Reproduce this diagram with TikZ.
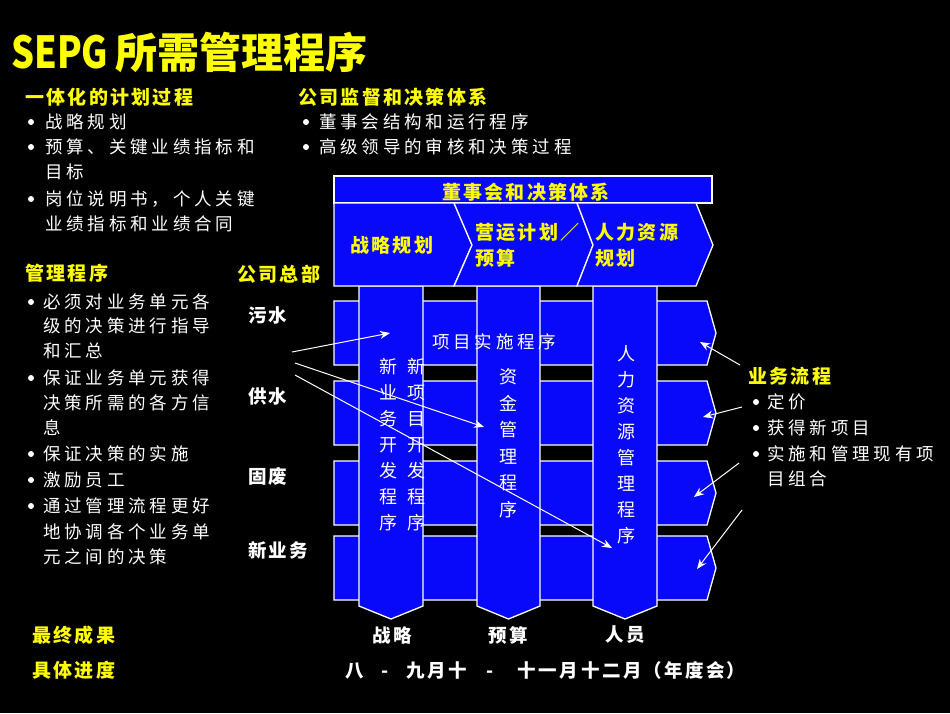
\documentclass[tikz,border=0pt]{standalone}
\usepackage{fontspec}
\usetikzlibrary{arrows.meta}
\newfontfamily\cjkW{Noto Sans CJK SC}[LetterSpace=22]
\newfontfamily\cjkV{Noto Sans CJK SC}
\newfontfamily\cjkB{Noto Sans CJK SC}[LetterSpace=12]
\definecolor{bgblue}{RGB}{8,8,250}
\definecolor{ylw}{RGB}{255,255,0}
\tikzset{
  shapebox/.style={fill=bgblue, draw=white, line width=1.3pt, line join=miter},
  yhead/.style={text=ylw, font=\cjkB\bfseries\fontsize{19}{22}\selectfont, inner sep=0pt},
  wlabel/.style={text=white, font=\cjkB\bfseries\fontsize{18.5}{22}\selectfont, inner sep=0pt},
  wtxt/.style={text=white, font=\cjkW\fontsize{17.5}{22}\selectfont, inner sep=0pt, anchor=west},
  vtxt/.style={text=white, font=\cjkV\fontsize{18}{26}\selectfont, inner sep=0pt, align=center},
  bul/.style={fill=white},
  arr/.style={draw=white, line width=1pt, -{Stealth[length=10pt,width=8pt]}}
}
\begin{document}
\begin{tikzpicture}[x=1pt,y=-1pt]
\fill[black] (0,0) rectangle (950,713);
\useasboundingbox (0,0) rectangle (950,713);

% title
\node[text=ylw, font=\cjkV\bfseries\fontsize{42}{46}\selectfont, anchor=west, inner sep=0pt] (title) at (11,52) {\scalebox{0.86}[1.05]{SEPG}\hspace{7pt}所需管理程序};

% left top block
\node[yhead, anchor=west] (h1) at (25,97) {一体化的计划过程};
\fill[bul] (31,122) circle (3);
\node[wtxt] (a1) at (45,122) {战略规划};
\fill[bul] (31,147) circle (3);
\node[wtxt] (a2) at (45,147) {预算、关键业绩指标和};
\node[wtxt] (a3) at (45,172) {目标};
\fill[bul] (31,199) circle (3);
\node[wtxt] (a4) at (45,199) {岗位说明书，个人关键};
\node[wtxt] (a5) at (45,224) {业绩指标和业绩合同};

% right top block
\node[yhead, anchor=west] (h2) at (298,97) {公司监督和决策体系};
\fill[bul] (306,122) circle (3);
\node[wtxt] (b1) at (319,122) {董事会结构和运行程序};
\fill[bul] (306,147) circle (3);
\node[wtxt] (b2) at (319,147) {高级领导的审核和决策过程};

% management block
\node[yhead, anchor=west] (h3) at (25,273) {管理程序};
\fill[bul] (31,302) circle (3);
\node[wtxt] (c1) at (43,302) {必须对业务单元各};
\node[wtxt] (c2) at (43,326) {级的决策进行指导};
\node[wtxt] (c3) at (43,351) {和汇总};
\fill[bul] (31,378) circle (3);
\node[wtxt] (c4) at (43,378) {保证业务单元获得};
\node[wtxt] (c5) at (43,403) {决策所需的各方信};
\node[wtxt] (c6) at (43,428) {息};
\fill[bul] (31,454) circle (3);
\node[wtxt] (c7) at (43,454) {保证决策的实施};
\fill[bul] (31,480) circle (3);
\node[wtxt] (c8) at (43,480) {激励员工};
\fill[bul] (31,506) circle (3);
\node[wtxt] (c9) at (43,506) {通过管理流程更好};
\node[wtxt] (c10) at (43,532) {地协调各个业务单};
\node[wtxt] (c11) at (43,557) {元之间的决策};

\node[yhead, anchor=west] (hq) at (237,274) {公司总部};
\node[wlabel, anchor=west] (r1l) at (248,315) {污水};
\node[wlabel, anchor=west] (r2l) at (248,396) {供水};
\node[wlabel, anchor=west] (r3l) at (248,476) {固废};
\node[wlabel, anchor=west] (r4l) at (248,550) {新业务};

% rows
\foreach \t/\n in {301/1,381/2,461/3,536/4}{
  \draw[shapebox] (334,\t) -- (707,\t) -- (716,\t+32) -- (707,\t+64) -- (334,\t+64) -- cycle;
}
% columns
\foreach \a/\b/\n in {359/423/1,477/540/2,593/657/3}{
  \draw[shapebox] (\a,286) -- (\b,286) -- (\b,606) -- ({(\a+\b)/2},619) -- (\a,606) -- cycle;
}
% board band and chevrons
\draw[shapebox] (334,176) rectangle (712,203);
\draw[shapebox] (334,203) -- (454,203) -- (472,245) -- (454,286) -- (334,286) -- cycle;
\draw[shapebox] (454,203) -- (577,203) -- (593,245) -- (577,286) -- (454,286) -- (472,245) -- cycle;
\draw[shapebox] (577,203) -- (696,203) -- (713,245) -- (696,286) -- (577,286) -- (593,245) -- cycle;

\node[yhead] (board) at (526,192) {董事会和决策体系};
\node[yhead, anchor=west] (ch1) at (350,245) {战略规划};
\node[yhead, anchor=west] (ch2a) at (475,232) {营运计划／};
\node[yhead, anchor=west] (ch2b) at (475,258) {预算};
\node[yhead, anchor=west] (ch3a) at (595,232) {人力资源};
\node[yhead, anchor=west] (ch3b) at (595,258) {规划};

% inner texts
\node[wtxt] (proj) at (432,342) {项目实施程序};
\node[vtxt] (v1) at (388,445) {新\\业\\务\\开\\发\\程\\序};
\node[vtxt] (v2) at (416,445) {新\\项\\目\\开\\发\\程\\序};
\node[vtxt, font=\cjkV\fontsize{18}{26.5}\selectfont] (v3) at (508,443) {资\\金\\管\\理\\程\\序};
\node[vtxt] (v4) at (626,444.5) {人\\力\\资\\源\\管\\理\\程\\序};

% business process block
\node[yhead, anchor=west] (h4) at (748,376) {业务流程};
\fill[bul] (756,402) circle (3);
\node[wtxt] (d1) at (767,402) {定价};
\fill[bul] (756,428) circle (3);
\node[wtxt] (d2) at (767,428) {获得新项目};
\fill[bul] (756,454) circle (3);
\node[wtxt] (d3) at (767,454) {实施和管理现有项};
\node[wtxt] (d4) at (767,479) {目组合};

% arrow endpoints
\coordinate (la) at (292,352); \coordinate (lae) at (390,333);
\coordinate (lb) at (295,363); \coordinate (lbe) at (484,427);
\coordinate (lc) at (295,375); \coordinate (lce) at (612,548);
\coordinate (ra) at (740,365); \coordinate (rae) at (700,342);
\coordinate (rb) at (742,407); \coordinate (rbe) at (703,417);
\coordinate (rc) at (739,463); \coordinate (rce) at (694,497);
\coordinate (rd) at (742,510); \coordinate (rde) at (697,569);
\draw[arr] (la) -- (lae);
\draw[arr] (lb) -- (lbe);
\draw[arr] (lc) -- (lce);
\draw[arr] (ra) -- (rae);
\draw[arr] (rb) -- (rbe);
\draw[arr] (rc) -- (rce);
\draw[arr] (rd) -- (rde);

% bottom
\node[yhead, anchor=west] (fin) at (32,635) {最终成果};
\node[yhead, anchor=west] (sch) at (32,670) {具体进度};
\node[wlabel] (o1) at (392,635) {战略};
\node[wlabel] (o2) at (508,635) {预算};
\node[wlabel] (o3) at (625,635) {人员};
\node[wlabel, anchor=west] (tl) at (345,670) {八\hspace{18pt}-\hspace{18pt}九月十\hspace{20pt}-\hspace{24pt}十一月\hspace{4pt}十二月（年度会）};
\end{tikzpicture}
\end{document}
